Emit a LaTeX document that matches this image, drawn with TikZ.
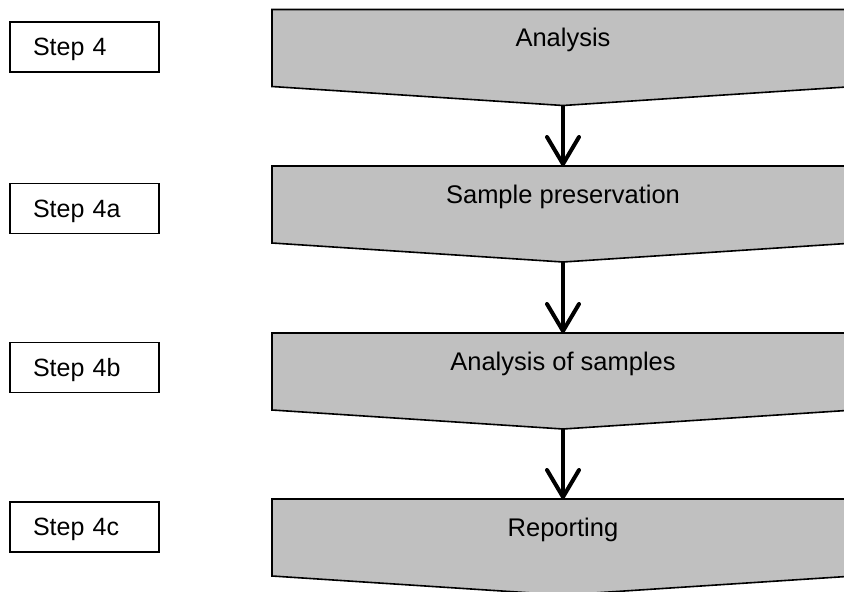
\documentclass[tikz,border=0pt]{standalone}
\usepackage{fontspec}
\setmainfont{Liberation Sans}
\usetikzlibrary{arrows.meta}
\definecolor{stagegray}{RGB}{192,192,192}

% One grey downward pentagon with its caption:
% #1 name, #2 top edge, #3 caption
\newcommand\drawstage[3]{%
  \draw[stage] (272,#2) -- (854,#2) -- (854,#2+77) -- (563,#2+96)
     -- (272,#2+77) -- cycle;
  \coordinate (#1-top) at (563,#2);
  \coordinate (#1-tip) at (563,#2+96);
  \node[stagetext] (#1) at (563,#2+28) {#3};
}

\begin{document}
\begin{tikzpicture}[x=1pt,y=-1pt,
  stage/.style={fill=stagegray,draw=black,line width=1.6pt,line join=miter},
  stagetext/.style={font=\fontsize{25.5}{30}\selectfont,inner sep=0pt,
    text height=18.2pt,text depth=0pt},
  stepbox/.style={draw=black,line width=1.5pt,minimum width=149pt,
    minimum height=50pt,inner ysep=0pt,inner xsep=23pt,
    text width=103pt,align=left,font=\fontsize{25}{30}\selectfont,
    text height=17.9pt,text depth=0pt},
  flow/.style={line width=4pt,
    -{Straight Barb[length=27pt,width=32pt,line cap=round,round]}}]
  \useasboundingbox (0,0) rectangle (844,592);
  \clip (0,0) rectangle (844,592);

  % process stages
  \drawstage{analysis}{9.5}{Analysis}
  \drawstage{preserve}{166}{Sample preservation}
  \drawstage{samples}{333}{Analysis of samples}
  \drawstage{report}{499}{Reporting}

  % step labels on the left
  \node[stepbox] (s4)  at (84.5,47)  {Step 4};
  \node[stepbox] (s4a) at (84.5,208.5) {Step 4a};
  \node[stepbox] (s4b) at (84.5,367.5) {Step 4b};
  \node[stepbox] (s4c) at (84.5,527) {Step 4c};

  % flow between stages
  \draw[flow] (analysis-tip) -- (preserve-top);
  \draw[flow] (preserve-tip) -- (samples-top);
  \draw[flow] (samples-tip) -- (report-top);
\end{tikzpicture}
\end{document}
